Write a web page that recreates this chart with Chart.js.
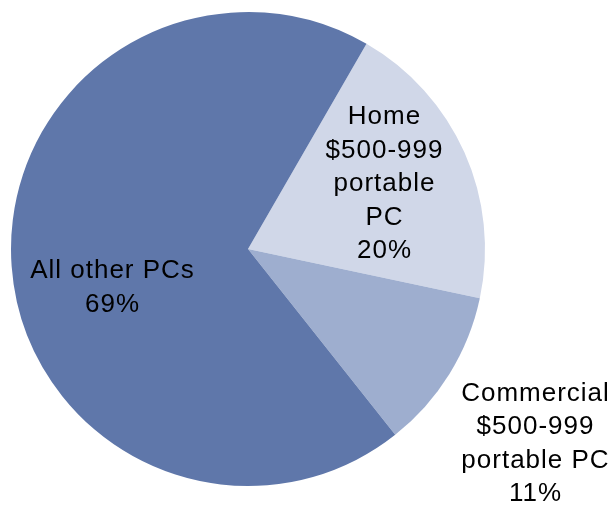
<!DOCTYPE html>
<html>
<head>
<meta charset="utf-8">
<script src="https://cdn.jsdelivr.net/npm/chart.js@4.4.1/dist/chart.umd.min.js"></script>
<style>
  html, body { margin: 0; padding: 0; background: #ffffff; }
  #wrap { width: 616px; height: 505px; }
</style>
</head>
<body>
<div id="wrap"><canvas id="pc" width="616" height="505"></canvas></div>
<script>
// Share of PC market by segment
const categories = ['Home $500-999 portable PC', 'Commercial $500-999 portable PC', 'All other PCs'];
const shares = [20, 11, 69];
const sliceColors = ['#d0d7e8', '#9eaecf', '#5f77aa'];
// Text blocks shown for each slice (last line is the share)
const labelLines = [
  ['Home', '$500-999', 'portable', 'PC'],
  ['Commercial', '$500-999', 'portable PC'],
  ['All other PCs']
];
// Offsets of each label block's centre from the pie centre
const labelPlacement = [
  { dx: 136, dy: -65 },
  { dx: 287, dy: 195 },
  { dx: -136, dy: 39 }
];

const sliceLabels = {
  id: 'sliceLabels',
  afterDatasetsDraw(chart) {
    const ctx = chart.ctx;
    const meta = chart.getDatasetMeta(0);
    ctx.save();
    ctx.fillStyle = '#000000';
    ctx.font = '26px "Liberation Sans", Arial, sans-serif';
    ctx.letterSpacing = '1px';
    ctx.textAlign = 'center';
    ctx.textBaseline = 'middle';
    const lineH = 33.5;
    meta.data.forEach((arc, i) => {
      const lines = labelLines[i].concat([shares[i] + '%']);
      const cx = arc.x + labelPlacement[i].dx;
      const cy = arc.y + labelPlacement[i].dy;
      const top = cy - (lines.length - 1) * lineH / 2;
      lines.forEach((t, k) => ctx.fillText(t, cx + 0.5, top + k * lineH));
    });
    ctx.restore();
  }
};

new Chart(document.getElementById('pc'), {
  type: 'pie',
  data: {
    labels: categories,
    datasets: [{
      data: shares,
      backgroundColor: sliceColors,
      borderWidth: 0
    }]
  },
  options: {
    responsive: false,
    animation: false,
    rotation: 30,
    layout: { padding: { left: 11, right: 131, top: 12, bottom: 19 } },
    plugins: {
      legend: { display: false },
      tooltip: { enabled: false }
    }
  },
  plugins: [sliceLabels]
});
</script>
</body>
</html>
